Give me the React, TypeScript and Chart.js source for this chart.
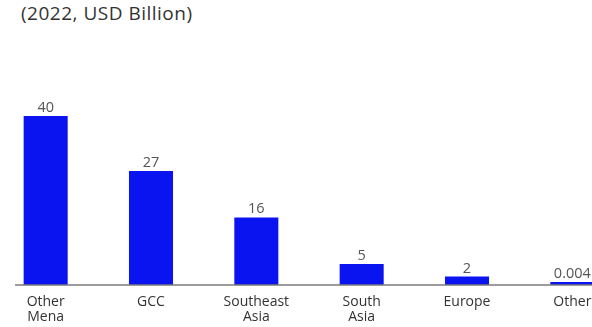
import React, { useEffect, useRef } from "react";
import { Chart, registerables } from "chart.js";

Chart.register(...registerables);

const categories: string[][] = [["Other", "Mena"], ["GCC"], ["Southeast", "Asia"], ["South", "Asia"], ["Europe"], ["Other"]];
const values: number[] = [40, 27, 16, 5, 2, 0.004];
const valueLabels: string[] = ["40", "27", "16", "5", "2", "0.004"];
const subtitle = "(2022, USD Billion)";

const FONT = "'Open Sans', Lato, sans-serif";

export default function App() {
  const ref = useRef<HTMLCanvasElement | null>(null);

  useEffect(() => {
    if (!ref.current) return;
    const labelPlugin = {
      id: "valueLabels",
      afterDatasetsDraw(chart: any) {
        const ctx = chart.ctx;
        const meta = chart.getDatasetMeta(0);
        ctx.save();
        ctx.font = `14.5px ${FONT}`;
        ctx.fillStyle = "#555555";
        ctx.textAlign = "center";
        ctx.textBaseline = "alphabetic";
        meta.data.forEach((bar: any, i: number) => {
          ctx.fillText(valueLabels[i], bar.x, bar.y - 4);
        });
        ctx.restore();
      },
    };
    const baselinePlugin = {
      id: "baseline",
      afterDatasetsDraw(chart: any) {
        const ctx = chart.ctx;
        const y = chart.scales.y.getPixelForValue(0);
        ctx.save();
        ctx.strokeStyle = "#7a7a7a";
        ctx.lineWidth = 1.5;
        ctx.beginPath();
        ctx.moveTo(22, y);
        ctx.lineTo(chart.width, y);
        ctx.stroke();
        ctx.restore();
      },
    };
    const chart = new Chart(ref.current, {
      type: "bar",
      data: {
        labels: categories,
        datasets: [
          {
            data: values,
            backgroundColor: "#0a14f0",
            barPercentage: 0.418,
            categoryPercentage: 1,
            minBarLength: 3,
          },
        ],
      },
      options: {
        animation: false,
        responsive: true,
        maintainAspectRatio: false,
        layout: { padding: { top: 116, bottom: 2, left: 0, right: 0 } },
        plugins: { legend: { display: false }, tooltip: { enabled: false } },
        scales: {
          x: {
            grid: { display: false, drawTicks: false },
            border: { display: false },
            ticks: {
              color: "#333333",
              font: { family: FONT, size: 14, lineHeight: "14.5px" },
              padding: 10,
              maxRotation: 0,
              autoSkip: false,
            },
          },
          y: {
            display: false,
            min: 0,
            max: 40,
          },
        },
      },
      plugins: [labelPlugin, baselinePlugin],
    });
    return () => chart.destroy();
  }, []);

  return (
    <div
      style={{
        position: "fixed",
        left: 0,
        top: 0,
        width: 592,
        height: 327,
        overflow: "hidden",
        background: "#ffffff",
      }}
    >
      <div
        style={{
          position: "absolute",
          left: 21,
          top: 0,
          fontFamily: FONT,
          fontSize: 19,
          letterSpacing: "0.5px",
          color: "#333333",
          whiteSpace: "nowrap",
        }}
      >
        {subtitle}
      </div>
      <div style={{ position: "absolute", left: -7, top: 0, width: 632, height: 336 }}>
        <canvas ref={ref} />
      </div>
    </div>
  );
}
